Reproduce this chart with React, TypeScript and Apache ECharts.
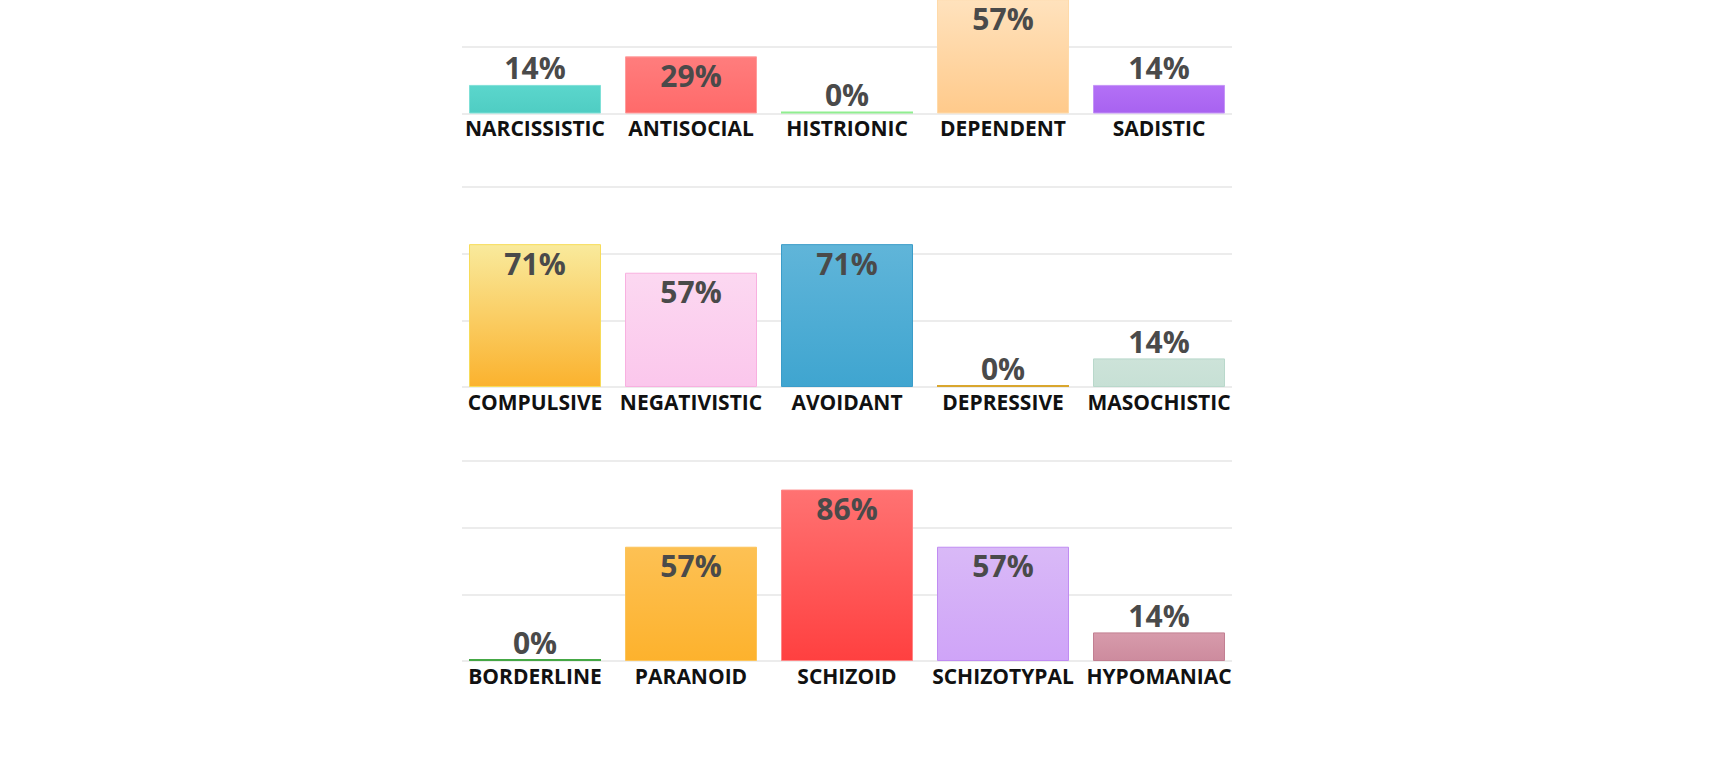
import React, { useEffect, useRef } from "react";
import * as echarts from "echarts";

const row1Categories = ["NARCISSISTIC", "ANTISOCIAL", "HISTRIONIC", "DEPENDENT", "SADISTIC"];
const row1Values = [14.29, 28.57, 0, 57.14, 14.29];
const row2Categories = ["COMPULSIVE", "NEGATIVISTIC", "AVOIDANT", "DEPRESSIVE", "MASOCHISTIC"];
const row2Values = [71.43, 57.14, 71.43, 0, 14.29];
const row3Categories = ["BORDERLINE", "PARANOID", "SCHIZOID", "SCHIZOTYPAL", "HYPOMANIAC"];
const row3Values = [0, 57.14, 85.71, 57.14, 14.29];

// [top colour, bottom colour, border colour]
const row1Colors = [
  ["#5bd6cc", "#4fcdc3", "#7fe0d7"],
  ["#ff7d7d", "#ff6a6a", "#ff9c9c"],
  ["#90ee90", "#90ee90", "#8ae88a"],
  ["#ffe2bd", "#ffca8b", "#ffdaa9"],
  ["#b370f6", "#a862f0", "#c494f7"],
];
const row2Colors = [
  ["#f9ea9c", "#fbb22e", "#f7dc5a"],
  ["#fcd8f1", "#fbc7ec", "#f8b0e0"],
  ["#60b5d9", "#3fa5d0", "#3b9cc9"],
  ["#d9a62e", "#d9a62e", "#d4a02a"],
  ["#cde3d9", "#c7e0d5", "#b9d8cb"],
];
const row3Colors = [
  ["#45a845", "#45a845", "#3d9e3d"],
  ["#fdc154", "#fdb22d", "#fcc45a"],
  ["#ff7272", "#ff4040", "#ff8585"],
  ["#d9b9f7", "#cfa4f8", "#c08cf2"],
  ["#d79bab", "#cd8b9e", "#c27f92"],
];

const OFFSET = 120; // the chart canvas starts above the visible page
const rows = [
  { cats: row1Categories, vals: row1Values, colors: row1Colors, top: -86.5 },
  { cats: row2Categories, vals: row2Values, colors: row2Colors, top: 187 },
  { cats: row3Categories, vals: row3Values, colors: row3Colors, top: 461 },
];

const GRID_H = 200;

function buildOption() {
  const grid: any[] = [];
  const xAxis: any[] = [];
  const yAxis: any[] = [];
  const series: any[] = [];

  rows.forEach((row) => {
    const top = row.top + OFFSET;
    // grid for split lines
    const gLines = grid.length;
    grid.push({ left: 462, width: 770, top, height: GRID_H, containLabel: false });
    xAxis.push({
      type: "category",
      gridIndex: gLines,
      data: row.cats,
      show: false,
    });
    yAxis.push({
      type: "value",
      gridIndex: gLines,
      min: 0,
      max: 100,
      interval: 100 / 3,
      axisLine: { show: false },
      axisTick: { show: false },
      axisLabel: { show: false },
      splitLine: { show: true, lineStyle: { color: "#ececec", width: 2 } },
    });
    series.push({
      type: "bar",
      xAxisIndex: gLines,
      yAxisIndex: gLines,
      data: [],
      silent: true,
    });

    // grid for bars
    const gBars = grid.length;
    grid.push({ left: 457, width: 780, top, height: GRID_H, containLabel: false });
    xAxis.push({
      type: "category",
      gridIndex: gBars,
      data: row.cats,
      axisLine: { show: false },
      axisTick: { show: false },
      axisLabel: {
        show: true,
        interval: 0,
        margin: 4,
        color: "#111111",
        fontFamily: "Open Sans",
        fontWeight: "bold",
        fontSize: 21,
      },
      splitLine: { show: false },
    });
    yAxis.push({
      type: "value",
      gridIndex: gBars,
      min: 0,
      max: 100,
      interval: 100 / 3,
      show: false,
      splitLine: { show: false },
    });
    series.push({
      type: "bar",
      xAxisIndex: gBars,
      yAxisIndex: gBars,
      barWidth: 132,
      barMinHeight: 2,
      z: 3,
      data: row.vals.map((v, i) => {
        const c = row.colors[i];
        return {
          value: v,
          itemStyle: {
            color: new echarts.graphic.LinearGradient(0, 0, 0, 1, [
              { offset: 0, color: c[0] },
              { offset: 1, color: c[1] },
            ]),
            borderColor: c[2],
            borderWidth: v > 0 ? 1 : 0,
          },
          label: v < 20 ? { position: "top", distance: 2 } : { position: "insideTop", distance: 4 },
        };
      }),
      label: {
        show: true,
        formatter: (p: any) => Math.round(p.value) + "%",
        color: "#4a4a4a",
        fontFamily: "Open Sans",
        fontWeight: "bold",
        fontSize: 30,
      },
    });
  });

  return {
    animation: false,
    backgroundColor: "#ffffff",
    grid,
    xAxis,
    yAxis,
    series,
  };
}

export default function App() {
  const ref = useRef<HTMLDivElement>(null);
  useEffect(() => {
    if (!ref.current) return;
    const chart = echarts.init(ref.current, undefined, { renderer: "svg" });
    chart.setOption(buildOption());
    return () => chart.dispose();
  }, []);
  return (
    <div
      ref={ref}
      style={{
        position: "fixed",
        left: 0,
        top: -OFFSET,
        width: 1725,
        height: 757 + OFFSET,
        background: "#fff",
      }}
    />
  );
}
